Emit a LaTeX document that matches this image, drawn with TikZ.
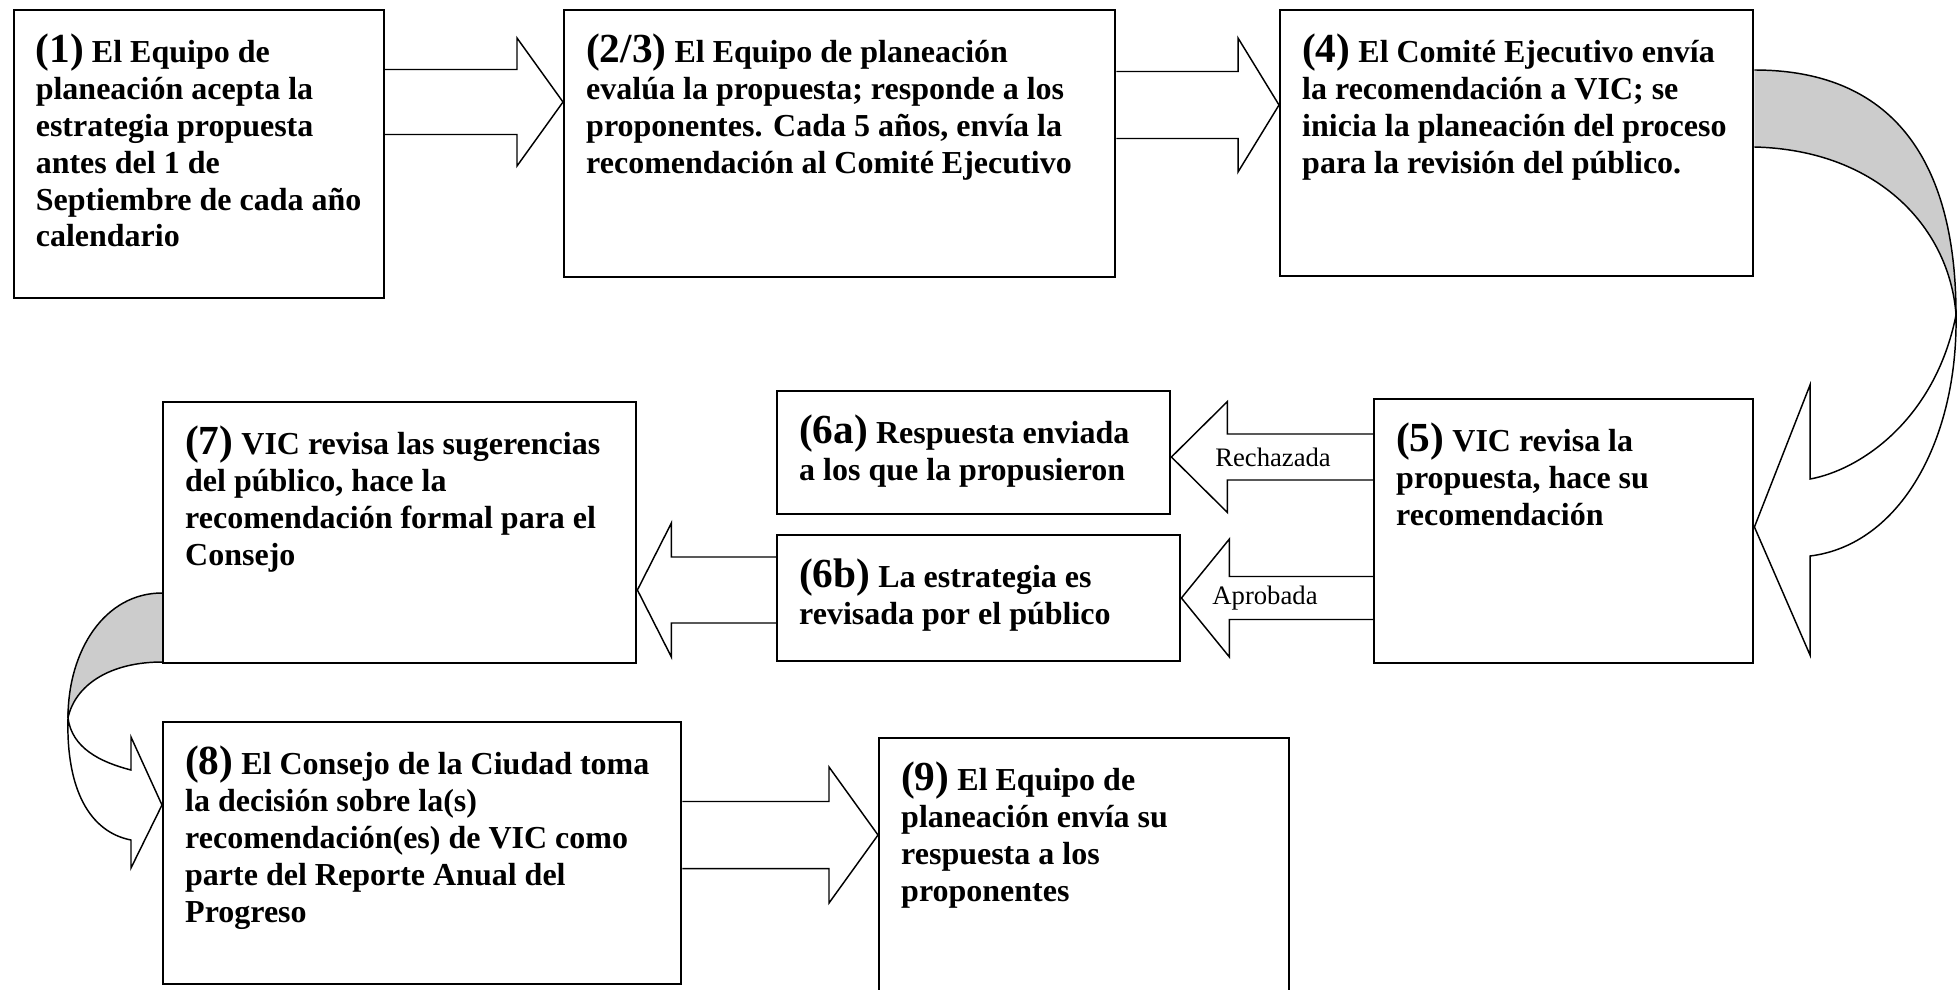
\documentclass[tikz,border=0pt]{standalone}
\usepackage{fontspec}
\setmainfont{Liberation Serif}
\usetikzlibrary{calc,backgrounds}

% one reference pixel
\newdimen\pxu \pxu=0.375pt
\newcommand\stepnum[1]{{\fontsize{15.5}{13.8}\selectfont #1}}
\newcommand\stepbody[3]{\begin{minipage}[c][\dimexpr#2\pxu-18pt\relax][t]{\dimexpr#1\pxu-16.5pt\relax}\raggedright\fontsize{12}{13.8}\selectfont\bfseries #3\end{minipage}}
% tail, tip, shaft half, head half, head length
\newcommand\blockarrow[5]{\draw[barrow] ($(#1)+(0,-#3)$) -- ($(#2)+(#5,-#3)$) -- ($(#2)+(#5,-#4)$) -- (#2) -- ($(#2)+(#5,#4)$) -- ($(#2)+(#5,#3)$) -- ($(#1)+(0,#3)$);}

\begin{document}
\begin{tikzpicture}[x=0.375pt, y=-0.375pt,
        stepbox/.style={rectangle, draw, line width=0.9pt, fill=white, anchor=north west, inner xsep=8.25pt, inner ysep=9pt},
        barrow/.style={draw, line width=0.55pt, fill=white, line join=miter},
        curved/.style={draw, line width=0.55pt},
        tag/.style={font=\fontsize{10}{12}\selectfont}
    ]
        \useasboundingbox (0,0) rectangle (1957,989);

        % Top row
        \node[stepbox] (b1) at (12.6,9) {\stepbody{370}{288}{\stepnum{(1)} El Equipo de\\planeación acepta la\\estrategia propuesta\\antes del 1 de\\Septiembre de cada año\\calendario}};
        \node[stepbox] (b2) at (563,9) {\stepbody{551}{267}{\stepnum{(2/3)} El Equipo de planeación\\evalúa la propuesta; responde a los\\proponentes. Cada 5 años, envía la\\recomendación al Comité Ejecutivo}};
        \node[stepbox] (b3) at (1279,9) {\stepbody{473}{266}{\stepnum{(4)} El Comité Ejecutivo envía\\la recomendación a VIC; se\\inicia la planeación del proceso\\para la revisión del público.}};

        % Middle row
        \node[stepbox] (b5) at (1373,398) {\stepbody{379}{264}{\stepnum{(5)} VIC revisa la\\propuesta, hace su\\recomendación}};
        \node[stepbox] (b6a) at (776,390) {\stepbody{393}{123}{\stepnum{(6a)} Respuesta enviada\\a los que la propusieron}};
        \node[stepbox] (b6b) at (776,534) {\stepbody{403}{126}{\stepnum{(6b)} La estrategia es\\revisada por el público}};
        \node[stepbox] (b7) at (162,401) {\stepbody{473}{261}{\stepnum{(7)} VIC revisa las sugerencias\\del público, hace la\\recomendación formal para el\\Consejo}};

        % Bottom row
        \node[stepbox] (b8) at (162,721) {\stepbody{518}{262}{\stepnum{(8)} El Consejo de la Ciudad toma\\la decisión sobre la(s)\\recomendación(es) de VIC como\\parte del Reporte Anual del\\Progreso}};
        \node[stepbox] (b9) at (878,737) {\stepbody{410}{255}{\stepnum{(9)} El Equipo de\\planeación envía su\\respuesta a los\\proponentes}};

        % Arrows
        \begin{scope}[on background layer]
            \coordinate (t12) at (b1.east |- 0,102);  \coordinate (h12) at (b2.west |- 0,102);
            \coordinate (t23) at (b2.east |- 0,105);  \coordinate (h23) at (b3.west |- 0,105);
            \coordinate (t5a) at (b5.west |- 0,457);  \coordinate (h5a) at (b6a.east |- 0,457);
            \coordinate (t5b) at (b5.west |- 0,598);  \coordinate (h5b) at (b6b.east |- 0,598);
            \coordinate (tb7) at (b6b.west |- 0,590); \coordinate (hb7) at (b7.east |- 0,590);
            \coordinate (t89) at (b8.east |- 0,835);  \coordinate (h89) at (b9.west |- 0,835);
            \blockarrow{t12}{h12}{32.5}{64}{-46}
            \blockarrow{t23}{h23}{33.5}{67}{-41}
            \blockarrow{t5a}{h5a}{23}{55.5}{56}
            \blockarrow{t5b}{h5b}{21.5}{59}{48}
            \blockarrow{tb7}{hb7}{33}{67}{34}
            \blockarrow{t89}{h89}{33.5}{68}{-49}

            % curved arrow (4) to (5)
            \coordinate (f35) at (1956,315);
            \fill[gray!40] (b3.east |- 0,70) .. controls (1900,70) and (1956,170) .. (f35)
                .. controls (1950,230) and (1880,150) .. (b3.east |- 0,147) -- cycle;
            \draw[curved] (b3.east |- 0,70) .. controls (1900,70) and (1956,170) .. (f35);
            \draw[curved] (b3.east |- 0,147) .. controls (1880,150) and (1950,230) .. (f35);
            \draw[curved, fill=white] (f35) .. controls (1958,440) and (1900,545) .. (1810,556)
                -- (1810,655) -- (b5.east |- 0,527) -- (1810,385) -- (1810,479)
                .. controls (1860,470) and (1935,420) .. (f35) -- cycle;

            % curved arrow (7) to (8)
            \coordinate (f78) at (68,718);
            \fill[gray!40] (b7.west |- 0,593) .. controls (105,593) and (68,650) .. (f78)
                .. controls (75,685) and (110,662) .. (b7.west |- 0,662) -- cycle;
            \draw[curved] (b7.west |- 0,593) .. controls (105,593) and (68,650) .. (f78);
            \draw[curved] (b7.west |- 0,662) .. controls (110,662) and (75,685) .. (f78);
            \draw[curved, fill=white] (f78) .. controls (66,790) and (90,832) .. (131,840)
                -- (131,868) -- (b8.west |- 0,805) -- (131,737) -- (131,770)
                .. controls (100,762) and (72,748) .. (f78) -- cycle;
        \end{scope}

        % Labels
        \node[tag] (rej) at (1273,457) {Rechazada};
        \node[tag] (apr) at (1265,598) {Aprobada};

    \end{tikzpicture}
\end{document}
